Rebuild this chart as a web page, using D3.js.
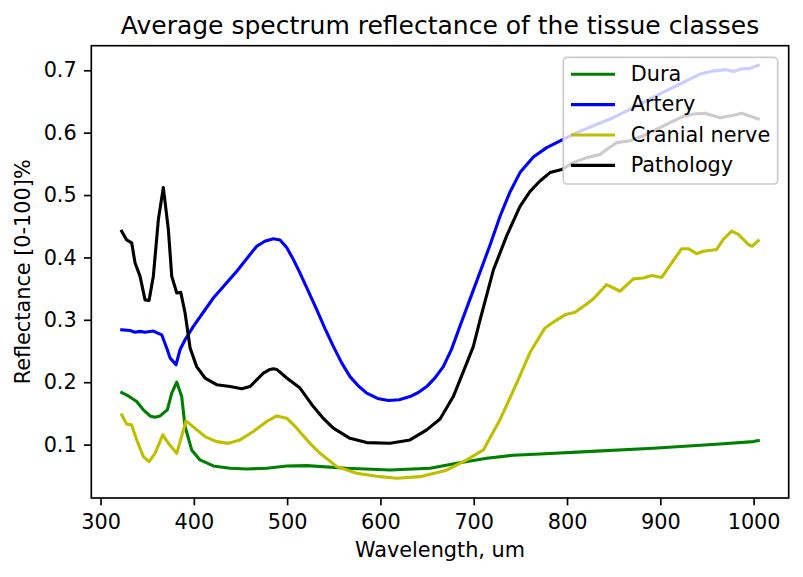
<!DOCTYPE html>
<html>
<head>
<meta charset="utf-8">
<script src="https://cdn.jsdelivr.net/npm/d3@7"></script>
<style>
  html, body { margin: 0; padding: 0; background: #fff; }
  svg { display: block; font-family: "DejaVu Sans", sans-serif; }
</style>
</head>
<body>
<svg id="chart" width="803" height="577"></svg>
<script>
// ---- data ----
const seriesNames = ["Dura", "Artery", "Cranial nerve", "Pathology"];
const seriesColors = ["#008000", "#0000ff", "#bfbf00", "#000000"];

const duraWl = [322.7, 329.8, 338.8, 345.9, 353, 358.4, 363.8, 371.6, 376.3, 381.7, 387, 390.6, 397.7, 406.6, 420.9, 438.8, 456.7, 478.1, 499.6, 521, 563.9, 610.3, 653.2, 681.8, 714, 742.4, 771, 821.1, 892.5, 964, 999.7, 1005];
const duraR  = [0.1835, 0.178, 0.169, 0.1557, 0.146, 0.144, 0.146, 0.1557, 0.1826, 0.200, 0.177, 0.129, 0.0915, 0.0754, 0.0658, 0.062, 0.061, 0.062, 0.0658, 0.0663, 0.062, 0.0594, 0.062, 0.070, 0.078, 0.0830, 0.0850, 0.0888, 0.0942, 0.101, 0.1048, 0.1065];

const arteryWl = [322.7, 331.6, 337, 342.3, 347.7, 356.6, 365.6, 371.6, 374.5, 380.9, 385.2, 390.6, 399.5, 420.9, 446, 467.4, 476, 485.2, 492.4, 499.5, 506.6, 513.8, 522.7, 531.7, 540.6, 549.5, 558.5, 567.4, 576.4, 585.3, 596.9, 608.5, 620.1, 631.7, 640.6, 649.6, 658.5, 667.4, 676.3, 685.3, 694.2, 703.2, 717.5, 728.2, 738.9, 749.6, 763.9, 778.2, 794.3, 810.4, 828.2, 849.6, 874.7, 899.6, 921.1, 942.5, 956.8, 971.1, 978.2, 987.2, 996.1, 1005];
const arteryR  = [0.284, 0.283, 0.280, 0.2815, 0.280, 0.282, 0.276, 0.252, 0.239, 0.228, 0.252, 0.268, 0.2896, 0.335, 0.378, 0.418, 0.426, 0.430, 0.428, 0.416, 0.397, 0.375, 0.346, 0.3164, 0.286, 0.2574, 0.231, 0.209, 0.194, 0.1826, 0.174, 0.1707, 0.172, 0.177, 0.1835, 0.193, 0.207, 0.225, 0.253, 0.290, 0.326, 0.362, 0.420, 0.466, 0.505, 0.536, 0.561, 0.576, 0.588, 0.600, 0.611, 0.624, 0.643, 0.662, 0.678, 0.694, 0.699, 0.701, 0.698, 0.702, 0.703, 0.708];

const nerveWl = [322.7, 328, 333.4, 338.8, 345.9, 352, 358.4, 366.7, 372.7, 381.7, 391.6, 401.3, 412, 424.5, 437, 449.5, 463.8, 478.1, 488.9, 499.6, 510.3, 522.7, 535.3, 553.2, 574.6, 599.6, 617.5, 642.4, 671, 692.5, 710.3, 728.2, 746.1, 760.4, 776.4, 787.1, 797.9, 808.6, 821.1, 828.2, 842.5, 856.8, 871.1, 881.8, 890.8, 901.5, 912.2, 922.9, 930, 939, 946.1, 960.4, 967.5, 976.5, 983.6, 994.3, 998.6, 1005];
const nerveR  = [0.1477, 0.1328, 0.1316, 0.1075, 0.0807, 0.0727, 0.086, 0.1156, 0.102, 0.086, 0.138, 0.126, 0.1129, 0.1048, 0.102, 0.1075, 0.121, 0.137, 0.146, 0.1424, 0.1263, 0.1048, 0.086, 0.0647, 0.054, 0.0486, 0.046, 0.0486, 0.059, 0.0754, 0.0915, 0.140, 0.1986, 0.248, 0.287, 0.298, 0.308, 0.312, 0.3255, 0.3336, 0.3566, 0.3458, 0.3657, 0.367, 0.371, 0.368, 0.3914, 0.414, 0.414, 0.406, 0.410, 0.4128, 0.4288, 0.4422, 0.437, 0.4208, 0.418, 0.427];

const pathWl = [322.7, 328, 333.4, 337, 342.3, 347.7, 352, 356.6, 362, 367.3, 372.7, 376.3, 381.7, 386, 390.6, 396, 403, 412, 424.5, 438.8, 451.3, 460.2, 474.5, 481.7, 485.3, 488.9, 499.6, 513.8, 528.1, 538.8, 549.5, 567.4, 585.3, 610.3, 631.7, 649.6, 663.9, 678.1, 692.5, 699.6, 706.8, 721.1, 735.4, 749.6, 760.4, 771, 781.8, 794.3, 806.7, 821.1, 835.4, 842.5, 853.3, 867.5, 881.8, 896.1, 910.4, 924.6, 935.4, 947.9, 964, 978.2, 987.2, 1005];
const pathR  = [0.442, 0.428, 0.4235, 0.391, 0.370, 0.332, 0.331, 0.370, 0.461, 0.512, 0.445, 0.370, 0.343, 0.344, 0.311, 0.255, 0.225, 0.2067, 0.196, 0.193, 0.1895, 0.193, 0.2147, 0.2205, 0.2215, 0.2205, 0.2067, 0.1906, 0.161, 0.142, 0.1263, 0.110, 0.1032, 0.1022, 0.1075, 0.1236, 0.141, 0.177, 0.2307, 0.2574, 0.300, 0.380, 0.435, 0.482, 0.506, 0.5225, 0.536, 0.541, 0.552, 0.560, 0.565, 0.573, 0.584, 0.587, 0.595, 0.6055, 0.616, 0.626, 0.630, 0.631, 0.624, 0.628, 0.631, 0.622];

const xTicks = [300, 400, 500, 600, 700, 800, 900, 1000];
const yTicks = [0.1, 0.2, 0.3, 0.4, 0.5, 0.6, 0.7];
const titleText = "Average spectrum reflectance of the tissue classes";
const xLabelText = "Wavelength, um";
const yLabelText = "Reflectance [0-100]%";

// ---- layout ----
const L = 91.3, R = 788.7, T = 45.7, B = 498;
const fs = 20.8;
const svg = d3.select("#chart");

const x = d3.scaleLinear().domain([290.1, 1037.6]).range([L, R]);
const y = d3.scaleLinear().domain([0.0144, 0.7394]).range([B, T]);

const series = [
  { wl: duraWl, r: duraR },
  { wl: arteryWl, r: arteryR },
  { wl: nerveWl, r: nerveR },
  { wl: pathWl, r: pathR }
];

const line = d3.line().x(d => x(d[0])).y(d => y(d[1]));

series.forEach((s, i) => {
  svg.append("path")
    .datum(d3.zip(s.wl, s.r))
    .attr("d", line)
    .attr("fill", "none")
    .attr("stroke", seriesColors[i])
    .attr("stroke-width", 3.1)
    .attr("stroke-linejoin", "round")
    .attr("stroke-linecap", "square");
});

// axes
const xAxis = d3.axisBottom(x).tickValues(xTicks).tickFormat(d3.format("d"))
  .tickSizeInner(7.3).tickSizeOuter(0).tickPadding(9);
const yAxis = d3.axisLeft(y).tickValues(yTicks).tickFormat(d3.format(".1f"))
  .tickSizeInner(7.3).tickSizeOuter(0).tickPadding(7.3);

const gx = svg.append("g").attr("transform", `translate(0,${B})`).call(xAxis);
const gy = svg.append("g").attr("transform", `translate(${L},0)`).call(yAxis);
[gx, gy].forEach(g => {
  g.select(".domain").remove();
  g.selectAll(".tick line").attr("stroke", "#000").attr("stroke-width", 1.67);
  g.selectAll(".tick text").attr("fill", "#000").style("font-size", fs + "px")
    .style("font-family", "'DejaVu Sans', sans-serif");
});

// frame (spines)
svg.append("rect")
  .attr("x", L).attr("y", T).attr("width", R - L).attr("height", B - T)
  .attr("fill", "none").attr("stroke", "#000").attr("stroke-width", 1.67);

// title and labels
svg.append("text").attr("x", (L + R) / 2).attr("y", 34)
  .attr("text-anchor", "middle").style("font-size", "25px").text(titleText);
svg.append("text").attr("x", (L + R) / 2).attr("y", 557)
  .attr("text-anchor", "middle").style("font-size", fs + "px").text(xLabelText);
svg.append("text").attr("transform", `translate(30,${(T + B) / 2}) rotate(-90)`)
  .attr("text-anchor", "middle").style("font-size", fs + "px").text(yLabelText);

// legend
const lg = svg.append("g");
lg.append("rect")
  .attr("x", 563.3).attr("y", 57.3).attr("width", 214.4).attr("height", 126.7)
  .attr("rx", 4).attr("ry", 4)
  .attr("fill", "#fff").attr("fill-opacity", 0.8)
  .attr("stroke", "#cccccc").attr("stroke-width", 1.67);
seriesNames.forEach((name, i) => {
  const cy = 74.3 + i * 30.35;
  lg.append("line").attr("x1", 571).attr("x2", 615).attr("y1", cy).attr("y2", cy)
    .attr("stroke", seriesColors[i]).attr("stroke-width", 3.1);
  lg.append("text").attr("x", 630.7).attr("y", cy + 6.6)
    .style("font-size", fs + "px").text(name);
});
</script>
</body>
</html>
